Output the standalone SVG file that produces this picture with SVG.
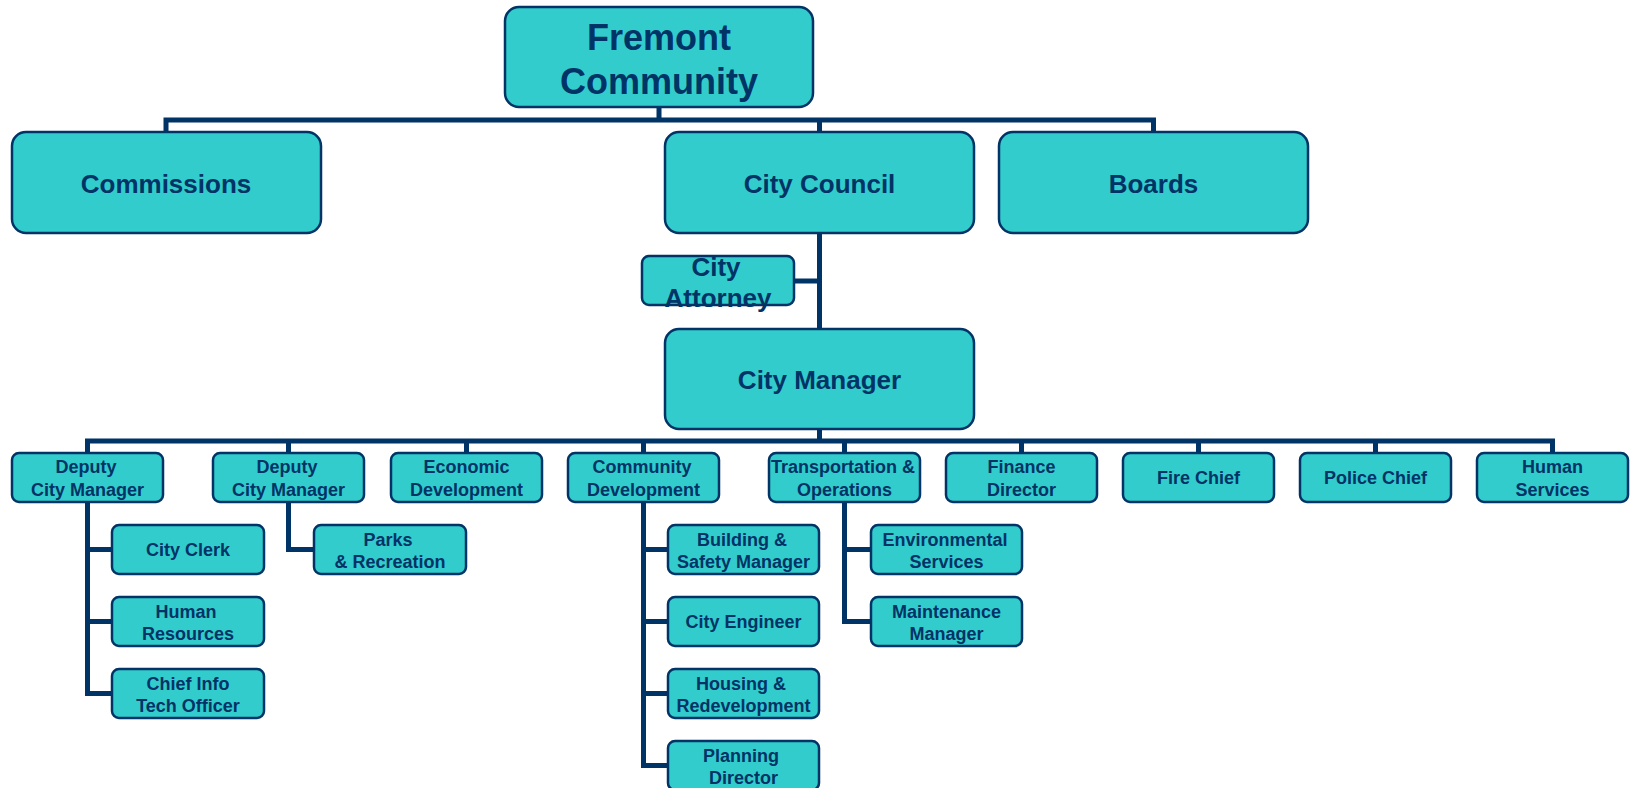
<svg xmlns="http://www.w3.org/2000/svg" width="1633" height="788" viewBox="0 0 1633 788">
<style>
.box{fill:#33CCCC;stroke:#003366;stroke-width:2.5}
.ln{fill:none;stroke:#003366;stroke-width:5;stroke-linejoin:miter;stroke-linecap:butt}
text{font-family:"Liberation Sans",Arial,sans-serif;font-weight:bold;fill:#003366;text-anchor:middle}
.t36{font-size:36px}
.t26{font-size:26px}
.t18{font-size:18px}
</style>
<rect width="1633" height="788" fill="#ffffff"/>
<g id="connectors">
<path class="ln" d="M659 107 V120"/>
<path class="ln" d="M166 132 V120 H1153.5 V132"/>
<path class="ln" d="M819.5 120 V132"/>
<path class="ln" d="M819.5 233 V329"/>
<path class="ln" d="M794 281 H819.5"/>
<path class="ln" d="M819.5 429 V441"/>
<path class="ln" d="M87.5 453 V441 H1552.5 V453"/>
<path class="ln" d="M288.5 441 V453 M466.5 441 V453 M643.5 441 V453 M844.5 441 V453 M1021.5 441 V453 M1198.5 441 V453 M1375.5 441 V453"/>
<path class="ln" d="M87.5 502 V693.5 H112 M87.5 549.5 H112 M87.5 621.5 H112"/>
<path class="ln" d="M288.5 502 V549.5 H314"/>
<path class="ln" d="M643.5 502 V765.5 H668 M643.5 549.5 H668 M643.5 621.5 H668 M643.5 693.5 H668"/>
<path class="ln" d="M844.5 502 V621.5 H871 M844.5 549.5 H871"/>
</g>
<g id="fremont"><rect class="box" x="505" y="7" width="308" height="100" rx="14"/><text class="t36" x="659" y="50">Fremont</text><text class="t36" x="659" y="94">Community</text></g>
<g id="commissions"><rect class="box" x="12" y="132" width="309" height="101" rx="14"/><text class="t26" x="166" y="193">Commissions</text></g>
<g id="city-council"><rect class="box" x="665" y="132" width="309" height="101" rx="14"/><text class="t26" x="819.5" y="193">City Council</text></g>
<g id="boards"><rect class="box" x="999" y="132" width="309" height="101" rx="14"/><text class="t26" x="1153.5" y="193">Boards</text></g>
<g id="city-attorney"><rect class="box" x="642" y="256" width="152" height="49" rx="7"/><text class="t26" x="716" y="276">City</text><text class="t26" x="718" y="307">Attorney</text></g>
<g id="city-manager"><rect class="box" x="665" y="329" width="309" height="100" rx="14"/><text class="t26" x="819.5" y="389">City Manager</text></g>
<g id="deputy1"><rect class="box" x="12" y="453" width="151" height="49" rx="7"/><text class="t18" x="86" y="473">Deputy</text><text class="t18" x="87.5" y="496">City Manager</text></g>
<g id="deputy2"><rect class="box" x="213" y="453" width="151" height="49" rx="7"/><text class="t18" x="287" y="473">Deputy</text><text class="t18" x="288.5" y="496">City Manager</text></g>
<g id="economic"><rect class="box" x="391" y="453" width="151" height="49" rx="7"/><text class="t18" x="466.5" y="473">Economic</text><text class="t18" x="466.5" y="496">Development</text></g>
<g id="community-dev"><rect class="box" x="568" y="453" width="151" height="49" rx="7"/><text class="t18" x="642" y="473">Community</text><text class="t18" x="643.5" y="496">Development</text></g>
<g id="transportation"><rect class="box" x="769" y="453" width="151" height="49" rx="7"/><text class="t18" x="843" y="473">Transportation &amp;</text><text class="t18" x="844.5" y="496">Operations</text></g>
<g id="finance"><rect class="box" x="946" y="453" width="151" height="49" rx="7"/><text class="t18" x="1021.5" y="473">Finance</text><text class="t18" x="1021.5" y="496">Director</text></g>
<g id="fire"><rect class="box" x="1123" y="453" width="151" height="49" rx="7"/><text class="t18" x="1198.5" y="484">Fire Chief</text></g>
<g id="police"><rect class="box" x="1300" y="453" width="151" height="49" rx="7"/><text class="t18" x="1375.5" y="484">Police Chief</text></g>
<g id="human-services"><rect class="box" x="1477" y="453" width="151" height="49" rx="7"/><text class="t18" x="1552.5" y="473">Human</text><text class="t18" x="1552.5" y="496">Services</text></g>
<g id="city-clerk"><rect class="box" x="112" y="525" width="152" height="49" rx="7"/><text class="t18" x="188" y="556">City Clerk</text></g>
<g id="human-resources"><rect class="box" x="112" y="597" width="152" height="49" rx="7"/><text class="t18" x="186" y="618">Human</text><text class="t18" x="188" y="640">Resources</text></g>
<g id="chief-info"><rect class="box" x="112" y="669" width="152" height="49" rx="7"/><text class="t18" x="188" y="690">Chief Info</text><text class="t18" x="188" y="712">Tech Officer</text></g>
<g id="parks"><rect class="box" x="314" y="525" width="152" height="49" rx="7"/><text class="t18" x="388" y="546">Parks</text><text class="t18" x="390" y="568">&amp; Recreation</text></g>
<g id="building"><rect class="box" x="668" y="525" width="151" height="49" rx="7"/><text class="t18" x="742" y="546">Building &amp;</text><text class="t18" x="743.5" y="568">Safety Manager</text></g>
<g id="city-engineer"><rect class="box" x="668" y="597" width="151" height="49" rx="7"/><text class="t18" x="743.5" y="628">City Engineer</text></g>
<g id="housing"><rect class="box" x="668" y="669" width="151" height="49" rx="7"/><text class="t18" x="741" y="690">Housing &amp;</text><text class="t18" x="743.5" y="712">Redevelopment</text></g>
<g id="planning"><rect class="box" x="668" y="741" width="151" height="49" rx="7"/><text class="t18" x="741" y="762">Planning</text><text class="t18" x="743.5" y="784">Director</text></g>
<g id="environmental"><rect class="box" x="871" y="525" width="151" height="49" rx="7"/><text class="t18" x="945" y="546">Environmental</text><text class="t18" x="946.5" y="568">Services</text></g>
<g id="maintenance"><rect class="box" x="871" y="597" width="151" height="49" rx="7"/><text class="t18" x="946.5" y="618">Maintenance</text><text class="t18" x="946.5" y="640">Manager</text></g>
</svg>
